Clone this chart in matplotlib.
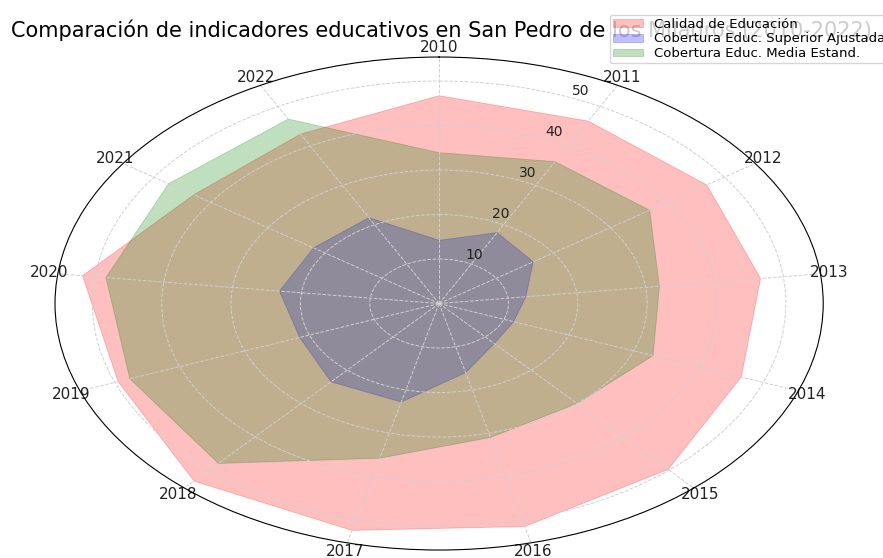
import numpy as np
import matplotlib
matplotlib.use("Agg")
import matplotlib.pyplot as plt

# datos (2010-2022)
years = ['2010', '2011', '2012', '2013', '2014', '2015', '2016',
         '2017', '2018', '2019', '2020', '2021', '2022']
calidad = [46.7, 46.3, 46.9, 46.7, 46.6, 49.8, 51.6, 52.5, 53.3, 49.5, 51.8, 43.0, 43.0]
superior = [14.2, 18.0, 16.5, 12.6, 11.5, 12.0, 16.0, 22.8, 23.5, 21.5, 23.2, 22.0, 21.8]
media = [33.9, 36.0, 36.9, 32.0, 33.0, 30.0, 31.0, 35.8, 48.0, 47.7, 48.4, 47.4, 46.8]

n = len(years)
angles = np.linspace(0, 2 * np.pi, n, endpoint=False).tolist()
angles += angles[:1]

def cerrar(vals):
    return vals + vals[:1]

fig = plt.figure(figsize=(8.83, 5.58), dpi=100)
ax = fig.add_axes([0.0623, 0.0143, 0.870, 0.8835], projection='polar')
ax.set_aspect('auto')
ax.set_theta_offset(np.pi / 2)
ax.set_theta_direction(-1)

ax.fill(angles, cerrar(calidad), color='red', alpha=0.25, linewidth=0.6, label='Calidad de Educación')
ax.fill(angles, cerrar(superior), color='blue', alpha=0.25, linewidth=0.6, label='Cobertura Educ. Superior Ajustada')
ax.fill(angles, cerrar(media), color='green', alpha=0.25, linewidth=0.6, label='Cobertura Educ. Media Estand.')

ax.set_xticks(angles[:-1])
ax.set_xticklabels(years, fontsize=11, color='#222222')
ax.tick_params(axis='x', pad=-4)
ax.tick_params(axis='y', labelsize=10, labelcolor='#222222')
ax.grid(True, linestyle='--', color='#d0d0d0', linewidth=0.7)

fig.text(0.5, 1 - 30 / 558,
         'Comparación de indicadores educativos en San Pedro de los Milagros (2010-2022)',
         ha='center', va='center', fontsize=15)

fig.legend(loc='upper left', bbox_to_anchor=(603 / 883, 1 - 8 / 558),
           bbox_transform=fig.transFigure, fontsize=9.5, labelspacing=0.12,
           borderpad=0.25, handlelength=2.3, handleheight=0.5)

fig.savefig('out.png', dpi=100)
